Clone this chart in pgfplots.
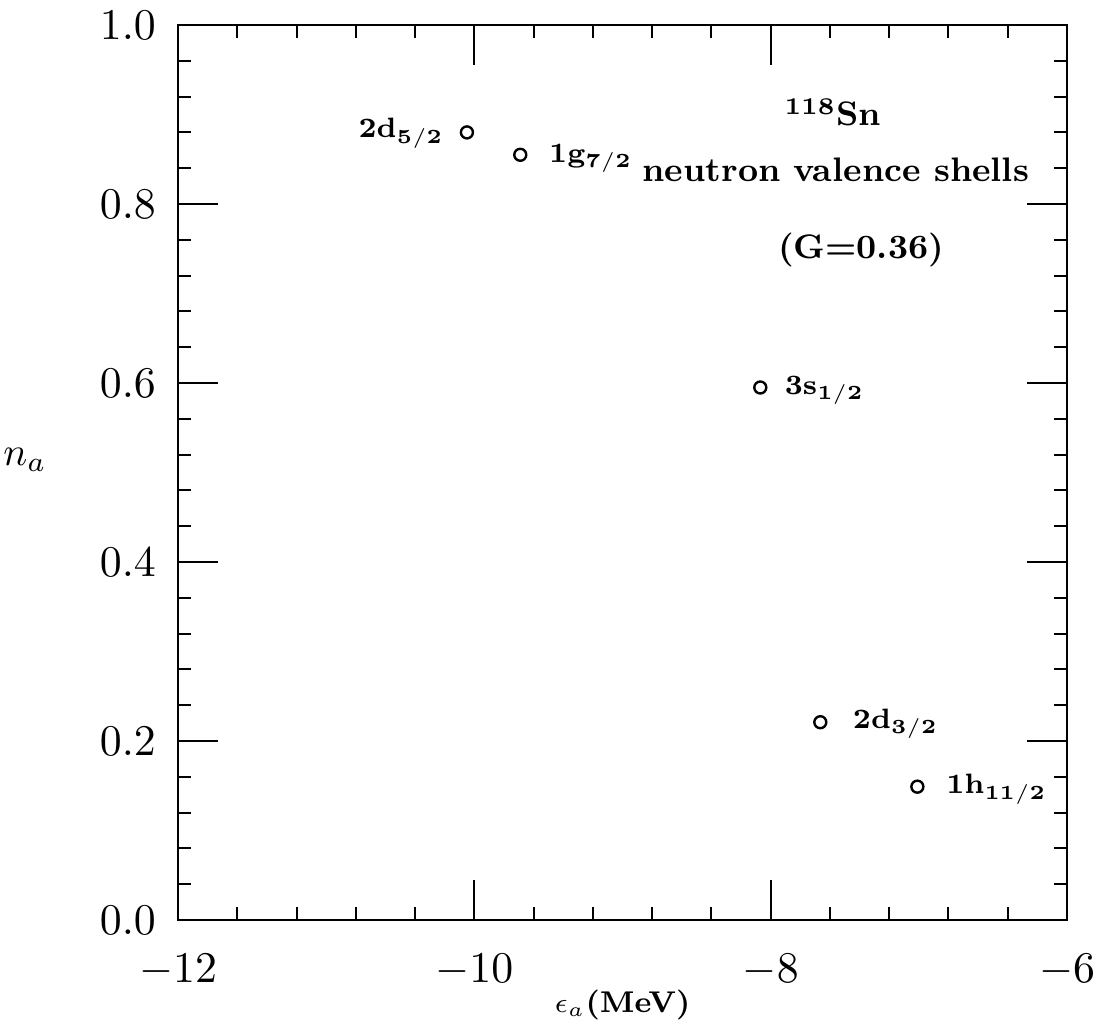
\documentclass[border=0pt]{standalone}
\usepackage{pgfplots}
\pgfplotsset{compat=1.18}
\usetikzlibrary{calc}
\begin{document}
\begin{tikzpicture}
\begin{axis}[
  scale only axis,
  width=222.25pt, height=223.75pt,
  xmin=-12, xmax=-6, ymin=0, ymax=1,
  xtick={-12,-10,-8,-6},
  ytick={0,0.2,0.4,0.6,0.8,1.0},
  minor x tick num=4,
  minor y tick num=4,
  tick align=inside,
  major tick length=10pt,
  minor tick length=3.3pt,
  axis line style={line width=0.5pt},
  every tick/.style={black, line width=0.5pt},
  yticklabel style={/pgf/number format/fixed,/pgf/number format/zerofill,/pgf/number format/precision=1, font=\fontsize{11}{13}\selectfont, xshift=-2pt},
  xticklabel style={font=\fontsize{11}{13}\selectfont, yshift=-5pt},
  xlabel={$\epsilon_a$(MeV)},
  ylabel={$n_a$},
  xlabel style={at={(axis description cs:0.50,-0.095)}, anchor=center, font=\fontsize{7.5}{9}\selectfont\bfseries},
  ylabel style={at={(axis description cs:-0.172,0.514)}, anchor=center, rotate=-90, font=\fontsize{10}{12}\selectfont\bfseries},
  clip=false,
]
\addplot[only marks, mark=o, mark size=1.5pt, mark options={line width=0.6pt}] coordinates {
  (-10.05,0.880)
  (-9.69,0.855)
  (-8.07,0.595)
  (-7.665,0.221)
  (-7.01,0.149)
};
\node[anchor=east, font=\fontsize{7}{9}\selectfont] at (axis cs:-10.11,0.879) {\textbf{2d}$_{\mathbf{5/2}}$};
\node[anchor=west, font=\fontsize{7}{9}\selectfont] at (axis cs:-9.59,0.851) {\textbf{1g}$_{\mathbf{7/2}}$};
\node[anchor=west, font=\fontsize{7}{9}\selectfont] at (axis cs:-8.00,0.592) {\textbf{3s}$_{\mathbf{1/2}}$};
\node[anchor=west, font=\fontsize{7}{9}\selectfont] at (axis cs:-7.54,0.219) {\textbf{2d}$_{\mathbf{3/2}}$};
\node[anchor=west, font=\fontsize{7}{9}\selectfont] at (axis cs:-6.91,0.146) {\textbf{1h}$_{\mathbf{11/2}}$};
\node[font=\fontsize{8.5}{10}\selectfont\bfseries] at (axis cs:-7.58,0.902) {$^{\mathbf{118}}$Sn};
\node[font=\fontsize{8.5}{10}\selectfont\bfseries] at (axis cs:-7.56,0.838) {neutron valence shells};
\node[font=\fontsize{8.5}{10}\selectfont\bfseries] at (axis cs:-7.39,0.749) {(G=0.36)};
\coordinate (bl) at (rel axis cs:0,0);
\coordinate (tr) at (rel axis cs:1,1);
\end{axis}
\pgfresetboundingbox
\path ($(bl)+(-44.5pt,-27.25pt)$) rectangle ($(tr)+(7pt,6.25pt)$);
\end{tikzpicture}
\end{document}
